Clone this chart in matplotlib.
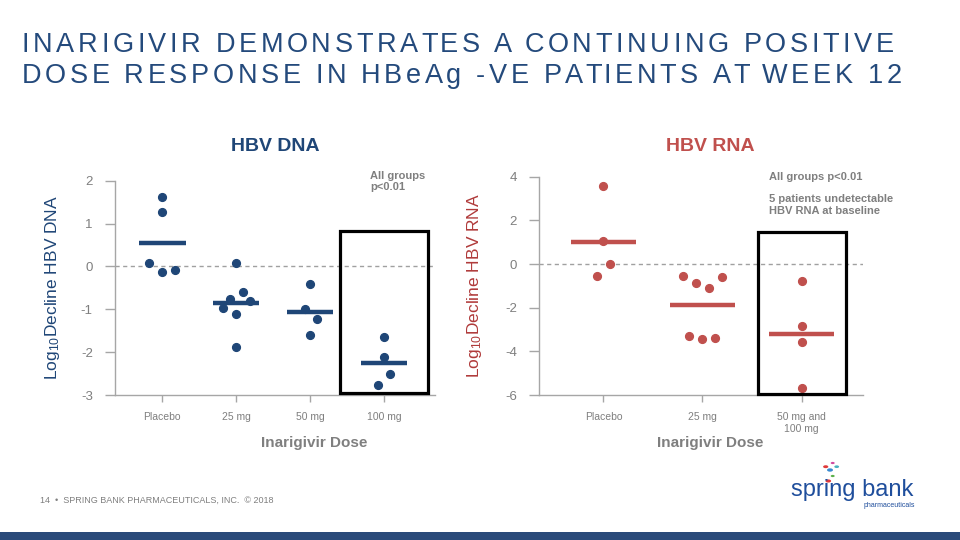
import numpy as np
import matplotlib
matplotlib.use("Agg")
import matplotlib.pyplot as plt
from matplotlib.patches import Rectangle, Circle

plt.rcParams['font.family'] = ['Liberation Sans', 'DejaVu Sans']
plt.rcParams['mathtext.fontset'] = 'custom'
plt.rcParams['mathtext.rm'] = 'Liberation Sans'
plt.rcParams['mathtext.it'] = 'Liberation Sans'
plt.rcParams['mathtext.bf'] = 'Liberation Sans:bold'

# ---------------- data ----------------
dna_groups = ["Placebo", "25 mg", "50 mg", "100 mg"]
dna_placebo = [1.63, 1.26, 0.09, -0.12, -0.09]
dna_25 = [0.09, -0.59, -0.77, -0.81, -0.96, -1.10, -1.87]
dna_50 = [-0.41, -0.99, -1.22, -1.59]
dna_100 = [-1.65, -2.12, -2.50, -2.77]
dna_yticks = [2, 1, 0, -1, -2, -3]

rna_groups = ["Placebo", "25 mg", "50 mg and\n100 mg"]
rna_placebo = [3.59, 1.07, -0.02, -0.55]
rna_25 = [-0.55, -0.58, -0.87, -1.08, -3.30, -3.42, -3.40]
rna_50_100 = [-0.79, -2.82, -3.59, -5.69]
rna_yticks = [4, 2, 0, -2, -4, -6]

# horizontal swarm offsets (layout only)
dna_jitter = [[0, 0, -0.18, 0, 0.167],
              [0, 0.09, -0.08, 0.18, -0.18, 0, 0],
              [0, -0.07, 0.10, 0],
              [0, 0, 0.085, -0.08]]
rna_jitter = [[0, 0, 0.065, -0.065],
              [-0.20, 0.20, -0.067, 0.064, -0.14, 0, 0.128],
              [0, 0, 0, 0]]

BLUE = "#1f4677"
RED = "#c0504d"
GRAY = "#7f7f7f"
AXC = "#a6a6a6"

W, H = 960, 540
fig = plt.figure(figsize=(9.6, 5.4), dpi=100)


def fx(px):
    return px / W


def fy(py):
    return 1 - py / H


def style_axes(ax, yticks, ylim, xlim, labels):
    for s in ["top", "right"]:
        ax.spines[s].set_visible(False)
    for s in ["left", "bottom"]:
        ax.spines[s].set_color(AXC)
        ax.spines[s].set_linewidth(1.0)
    ax.set_ylim(*ylim)
    ax.set_xlim(*xlim)
    ax.set_yticks(yticks)
    ax.set_yticklabels([str(t) for t in yticks])
    ax.set_xticks(range(len(labels)))
    ax.set_xticklabels(labels, fontsize=7.5, color=GRAY, linespacing=1.3)
    ax.tick_params(axis="y", length=7, width=1, color=AXC, pad=9,
                   labelsize=9.5, labelcolor=GRAY)
    ax.tick_params(axis="x", length=5, width=1, color=AXC, pad=7)
    ax.axhline(0, color="#a0a0a0", lw=1, ls=(0, (3, 2.5)), zorder=1)
    ax.patch.set_alpha(0)


def draw_groups(ax, groups, jitter, color, barw):
    for i, (vals, jit) in enumerate(zip(groups, jitter)):
        xs = [i + j for j in jit]
        ax.plot(xs, vals, "o", ms=5.6, color=color, mec=color, zorder=4,
                clip_on=False)
        m = np.mean(vals)
        ax.hlines(m, i - barw / 2, i + barw / 2, color=color, lw=3.2,
                  capstyle="butt", zorder=3)


# ---------------- left: HBV DNA ----------------
axL = fig.add_axes([fx(115), fy(395), fx(435 - 115), (395 - 180.7) / H])
style_axes(axL, dna_yticks, (-3, 2), (-0.64, 3.69), dna_groups)
draw_groups(axL, [dna_placebo, dna_25, dna_50, dna_100], dna_jitter, BLUE, 0.63)
axL.add_patch(Rectangle((2.40, -2.95), 1.20, 3.77, fill=False, ec="black",
                        lw=2.3, clip_on=False, zorder=5))
axL.set_ylabel("Log$_{10}$Decline HBV DNA", fontsize=12.5, color=BLUE)
axL.yaxis.set_label_coords(fx(62 - 115) / (fx(320)), 0.5)

fig.text(fx(275), fy(147), "HBV DNA", fontsize=14, fontweight="bold",
         color=BLUE, ha="center", va="center")
fig.text(fx(314), fy(443), "Inarigivir Dose", fontsize=11, fontweight="bold",
         color=GRAY, ha="center", va="center")
fig.text(fx(370), fy(171), "All groups\np<0.01", fontsize=8,
         fontweight="bold", color=GRAY, ha="left", va="top", linespacing=1.15)

# ---------------- right: HBV RNA ----------------
axR = fig.add_axes([fx(539), fy(395), fx(863 - 539), (395 - 176.7) / H])
style_axes(axR, rna_yticks, (-6, 4), (-0.65, 2.62), rna_groups)
draw_groups(axR, [rna_placebo, rna_25, rna_50_100], rna_jitter, RED, 0.65)
axR.add_patch(Rectangle((1.56, -5.97), 0.89, 7.44, fill=False, ec="black",
                        lw=2.3, clip_on=False, zorder=5))
axR.set_ylabel("Log$_{10}$Decline HBV RNA", fontsize=12.5, color="#b03a3a")
axR.yaxis.set_label_coords(fx(484 - 539) / (fx(324)), 0.5)

fig.text(fx(710), fy(147), "HBV RNA", fontsize=14, fontweight="bold",
         color=RED, ha="center", va="center")
fig.text(fx(710), fy(443), "Inarigivir Dose", fontsize=11, fontweight="bold",
         color=GRAY, ha="center", va="center")
fig.text(fx(769), fy(172),
         "All groups p<0.01\n\n5 patients undetectable\nHBV RNA at baseline",
         fontsize=8, fontweight="bold", color=GRAY, ha="left", va="top",
         linespacing=1.15)

# ---------------- title with letter spacing ----------------
renderer = fig.canvas.get_renderer()
TITLE_COLOR = "#244a7c"
title_lines = ["INARIGIVIR DEMONSTRATES A CONTINUING POSITIVE",
               "DOSE RESPONSE IN HBeAg -VE PATIENTS AT WEEK 12"]
title_baselines = [51.7, 83.3]
title_rights = [894, 901.7]
TSIZE = 19.5


def text_w(t):
    tt = fig.text(0, 0, t + "I", fontsize=TSIZE)
    w = tt.get_window_extent(renderer).width
    tt.remove()
    return w


baseI = text_w("")
for line, base, right in zip(title_lines, title_baselines, title_rights):
    offs = [text_w(line[:i]) - baseI for i in range(len(line) + 1)]
    natural = offs[-1]
    track = ((right - 21.7) - natural) / (len(line) - 1)
    for i, ch in enumerate(line):
        if ch == " ":
            continue
        fig.text(fx(21.7 + offs[i] + i * track), fy(base), ch, fontsize=TSIZE,
                 color=TITLE_COLOR, ha="left", va="baseline")

# ---------------- footer ----------------
fig.text(fx(40), fy(500), "14  \u2022  SPRING BANK PHARMACEUTICALS, INC.  \u00a9 2018",
         fontsize=6.5, color=GRAY, ha="left", va="center")
fig.add_artist(Rectangle((0, 0), 1, fy(532), transform=fig.transFigure,
                         color="#2a4a7a", lw=0))

# logo
fig.text(fx(791), fy(496), "spring bank", fontsize=17, color="#1f4e9c",
         ha="left", va="baseline")
fig.text(fx(915), fy(507), "pharmaceuticals", fontsize=5, color="#1f4e9c",
         ha="right", va="baseline")
for (cx, cy, r, c) in [(825.7, 466.7, 2.6, "#e03a3a"), (832.7, 463, 2.0, "#d04aa0"),
                       (830, 470, 3.0, "#3a8ad0"), (836.7, 466.7, 2.4, "#4ab0c0"),
                       (832.7, 476, 2.0, "#5ab04a"), (828.3, 481, 2.8, "#e03a3a")]:
    fig.add_artist(Circle((fx(cx), fy(cy)), r / W, transform=fig.transFigure,
                          color=c, lw=0))

fig.savefig("out.png", dpi=100)
